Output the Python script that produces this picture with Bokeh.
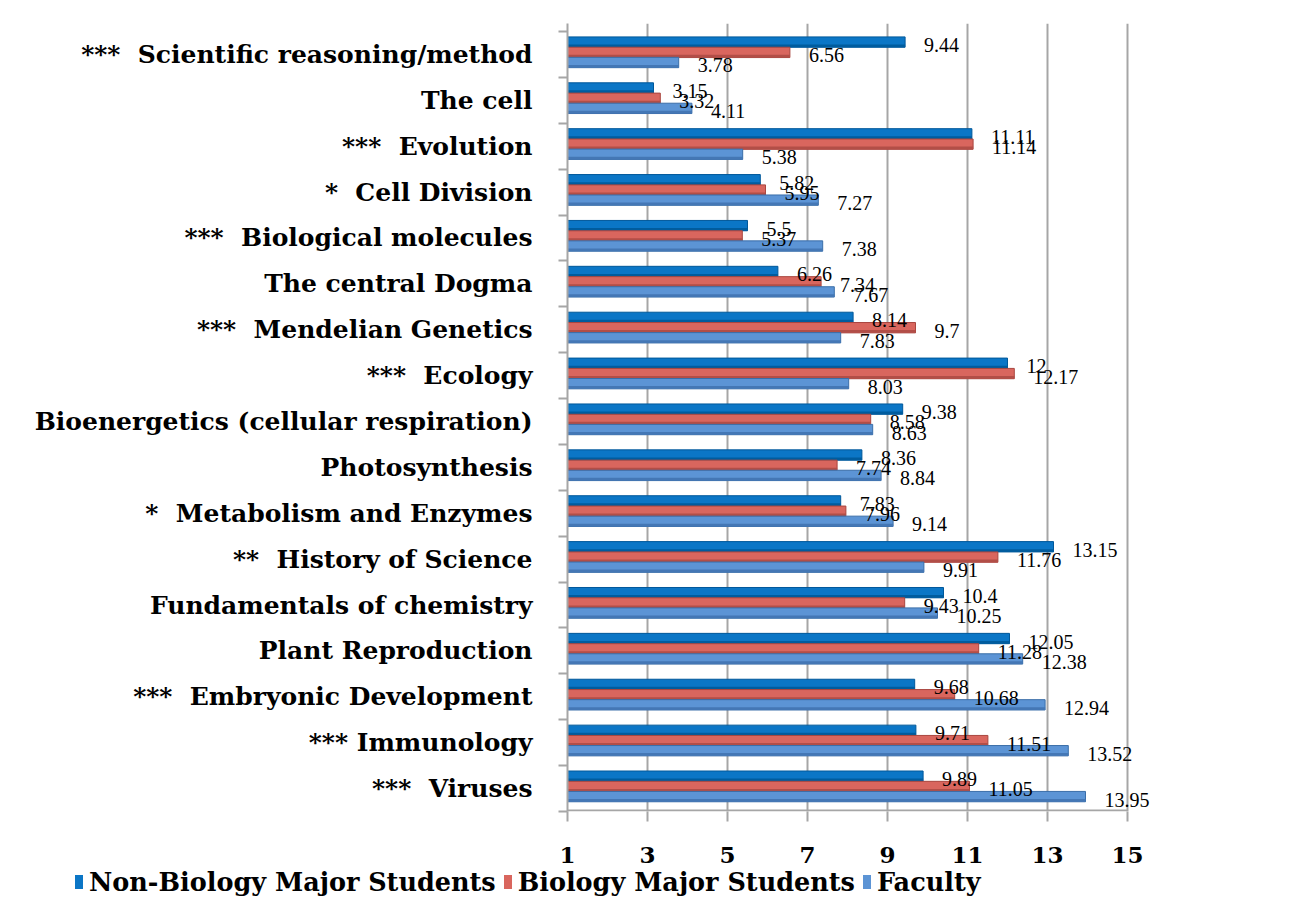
from bokeh.plotting import figure
from bokeh.layouts import column
from bokeh.models import Range1d, FixedTicker, LabelSet, ColumnDataSource, Div
from bokeh.core.properties import value
from bokeh.embed import file_html
from bokeh.resources import INLINE

NB = "\u00a0"
categories = [
    f"***{NB} Scientific reasoning/method",
    "The cell",
    f"***{NB} Evolution",
    f"*{NB} Cell Division",
    f"***{NB} Biological molecules",
    "The central Dogma",
    f"***{NB} Mendelian Genetics",
    f"***{NB} Ecology",
    "Bioenergetics (cellular respiration)",
    "Photosynthesis",
    f"*{NB} Metabolism and Enzymes",
    f"**{NB} History of Science",
    "Fundamentals of chemistry",
    "Plant Reproduction",
    f"***{NB} Embryonic Development",
    "*** Immunology",
    f"***{NB} Viruses",
]
non_bio = [9.44, 3.15, 11.11, 5.82, 5.5, 6.26, 8.14, 12, 9.38, 8.36, 7.83, 13.15, 10.4, 12.05, 9.68, 9.71, 9.89]
bio = [6.56, 3.32, 11.14, 5.95, 5.37, 7.34, 9.7, 12.17, 8.58, 7.74, 7.96, 11.76, 9.43, 11.28, 10.68, 11.51, 11.05]
faculty = [3.78, 4.11, 5.38, 7.27, 7.38, 7.67, 7.83, 8.03, 8.63, 8.84, 9.14, 9.91, 10.25, 12.38, 12.94, 13.52, 13.95]
series_names = ["Non-Biology Major Students", "Biology Major Students", "Faculty"]
x_ticks = [1, 3, 5, 7, 9, 11, 13, 15]

fills = ["#0B76C6", "#D9665E", "#5C94D5"]
edges = ["#00589A", "#A9463F", "#3A6EA8"]
shades = ["#005C9E", "#B24E47", "#4477B5"]
offsets = [0.27, 0.045, -0.175]
bar_h = 0.225
shade_h = 0.06

n = len(categories)
centers = [n - 0.5 - i for i in range(n)]
boundaries = [float(b) for b in range(0, n + 1)]

p = figure(width=1304, height=873, x_range=Range1d(1, 15.7), y_range=Range1d(0, n + 0.175),
           output_backend="svg", toolbar_location=None,
           min_border_left=567, min_border_right=149, min_border_top=23, min_border_bottom=62)
p.outline_line_color = None
p.background_fill_color = "white"
p.border_fill_color = "white"

for vals, fc, lc, sc, off in zip([non_bio, bio, faculty], fills, edges, shades, offsets):
    ys = [c + off for c in centers]
    src = ColumnDataSource(dict(
        x=vals,
        y=ys,
        y_shade=[y - bar_h / 2 + shade_h / 2 for y in ys],
        label=[f"{v:g}" for v in vals],
    ))
    p.hbar(y="y", left=1, right="x", height=bar_h, source=src,
           fill_color=fc, line_color=lc, line_width=1)
    p.hbar(y="y_shade", left=1, right="x", height=shade_h, source=src,
           fill_color=sc, line_color=None)
    labels = LabelSet(x="x", y="y", text="label", source=src, x_offset=19, y_offset=-3,
                      text_font=value("Liberation Serif"), text_font_size="20px",
                      text_baseline="middle", text_align="left", text_color="#000000")
    p.add_layout(labels)

# front floor line of the value axis (from first to last tick)
p.segment(x0=[x_ticks[0]], y0=[0.02], x1=[x_ticks[-1]], y1=[0.02], line_color="#A6A6A6", line_width=2)

# x axis
p.xaxis.ticker = FixedTicker(ticks=x_ticks)
p.xaxis.major_label_text_font = "DejaVu Serif"
p.xaxis.major_label_text_font_style = "bold"
p.xaxis.major_label_text_font_size = "23px"
p.xaxis.major_label_text_color = "#000000"
p.xaxis.major_tick_out = 10
p.xaxis.major_tick_in = 0
p.xaxis.minor_tick_line_color = None
p.xaxis.major_tick_line_color = "#A6A6A6"
p.xaxis.major_tick_line_width = 2
p.xaxis.axis_line_color = None
p.xaxis.major_label_standoff = 25

p.xgrid.ticker = FixedTicker(ticks=x_ticks[1:])
p.xgrid.grid_line_color = "#A6A6A6"
p.xgrid.grid_line_width = 2
p.ygrid.grid_line_color = None

# y axis
p.yaxis.ticker = FixedTicker(ticks=centers, minor_ticks=boundaries)
p.yaxis.major_label_overrides = {c: lab for c, lab in zip(centers, categories)}
p.yaxis.major_label_text_font = "DejaVu Serif"
p.yaxis.major_label_text_font_style = "bold"
p.yaxis.major_label_text_font_size = "25px"
p.yaxis.major_label_text_color = "#000000"
p.yaxis.major_tick_line_color = None
p.yaxis.major_tick_out = 0
p.yaxis.major_tick_in = 0
p.yaxis.minor_tick_out = 9
p.yaxis.minor_tick_in = 0
p.yaxis.minor_tick_line_color = "#A6A6A6"
p.yaxis.minor_tick_line_width = 2
p.yaxis.axis_line_color = "#A6A6A6"
p.yaxis.axis_line_width = 2
p.yaxis.major_label_standoff = 26

# legend strip below the chart
items_html = "".join(
    f'<span style="display:inline-block;width:8px;height:14px;background:{fc};'
    f'margin-right:6px;vertical-align:middle"></span>'
    f'<span style="margin-right:8px;vertical-align:middle">{nm}</span>'
    for nm, fc in zip(series_names, fills)
)
legend_div = Div(
    text=(f'<div style="font-family:\'DejaVu Serif\';font-weight:bold;font-size:25.5px;'
          f'line-height:14px;white-space:nowrap;padding-left:75px;color:#000000">{items_html}</div>'),
    width=1304, height=24, margin=0,
)

layout = column(p, legend_div, spacing=0)
open("out.html", "w").write(file_html(layout, INLINE))
